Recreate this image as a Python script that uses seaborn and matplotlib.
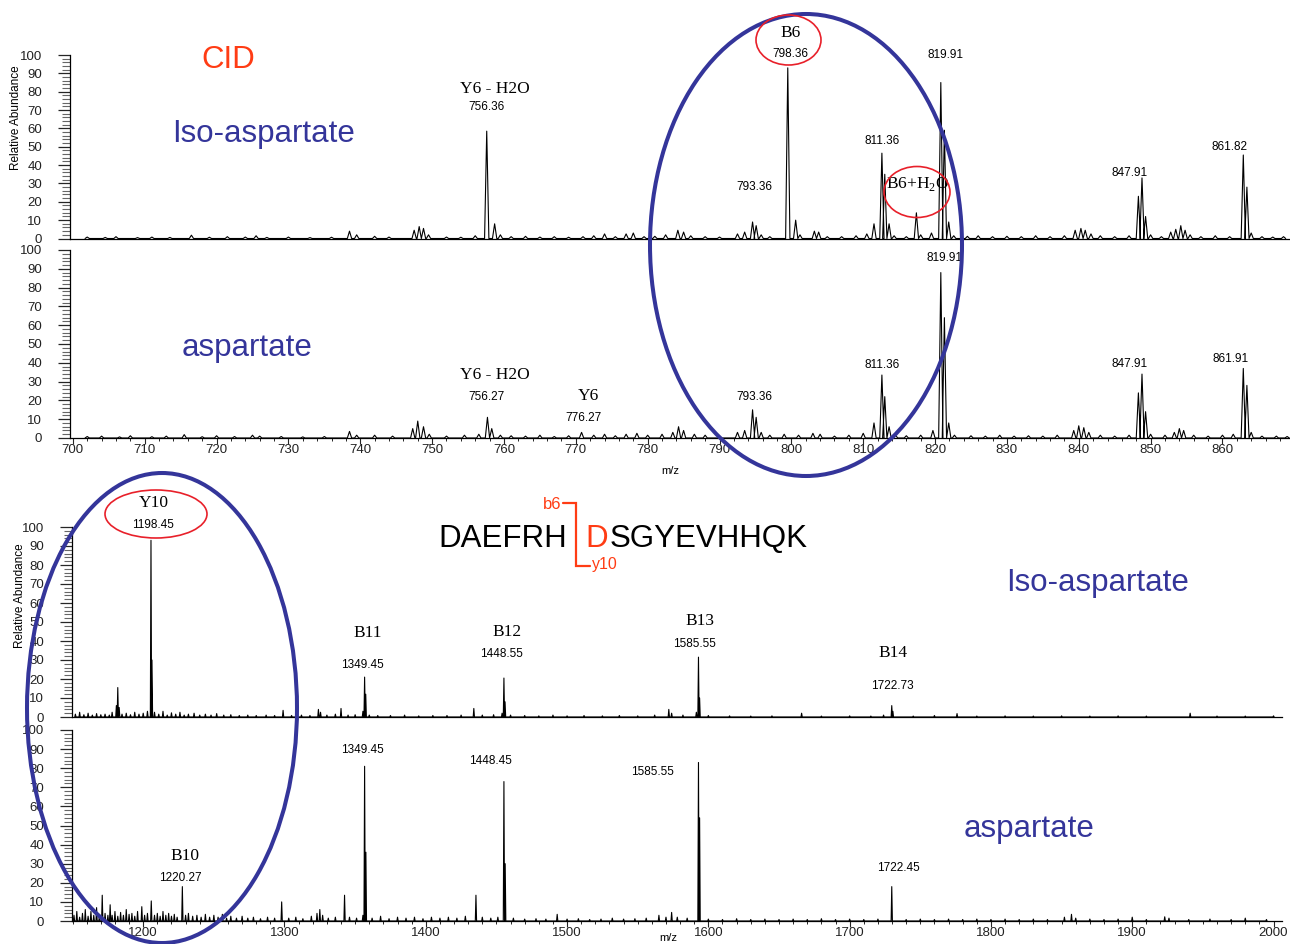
import matplotlib
matplotlib.use("Agg")
import matplotlib.pyplot as plt
import pandas as pd
import seaborn as sns
from matplotlib.patches import Ellipse
from matplotlib.ticker import MultipleLocator

# peak lists (m/z, relative abundance)
cid_iso = [
    (702, 0.8), (704.5, 0.6), (706, 1.0), (709, 0.5), (711, 0.8), (713.5, 0.6), (716.5, 1.8),
    (719, 0.7), (721.5, 1.0), (724, 0.8), (725.5, 1.5), (727, 0.6), (730, 0.8), (733, 0.5),
    (736, 0.7), (738.5, 4.0), (739.5, 2.0), (742, 1.2), (744, 0.8), (747.5, 4.5), (748.2, 6.5),
    (748.8, 5.5), (749.5, 2.0), (752, 0.8), (754, 0.7), (756, 1.5), (757.6, 58.5), (758.7, 8.0),
    (759.5, 2.0), (761, 1.0), (763, 1.2), (765, 0.8), (767, 1.0), (769, 0.7), (771, 1.0),
    (772.5, 1.5), (774, 2.5), (775.5, 1.0), (777, 2.5), (778, 3.0), (779.5, 1.0), (781, 1.2),
    (782.5, 2.0), (784.2, 4.5), (785, 3.5), (786, 1.5), (788, 1.0), (790, 0.8), (792.5, 2.5),
    (793.5, 3.5), (794.6, 9.0), (795.1, 7.0), (795.8, 2.0), (797, 1.0), (799.5, 93.0),
    (800.6, 10.0), (801.2, 2.0), (803.2, 4.0), (803.8, 3.5), (805, 1.0), (807, 1.0), (809, 1.5),
    (810.5, 2.5), (811.5, 8.0), (812.6, 46.5), (813.0, 35.0), (813.6, 8.0), (814.3, 1.5),
    (816, 1.0), (817.4, 14.0), (818, 2.0), (819.5, 3.0), (820.8, 85.0), (821.3, 59.0),
    (821.9, 9.0), (822.6, 1.5), (824.5, 1.2), (826, 1.5), (828, 1.0), (830, 1.2), (832, 1.0),
    (834, 1.5), (836, 1.0), (838, 1.5), (839.5, 4.5), (840.3, 5.5), (840.9, 4.5), (841.7, 2.5),
    (843, 1.5), (845, 1.0), (847, 1.5), (848.3, 23.0), (848.8, 33.0), (849.3, 12.0), (850, 2.0),
    (851.5, 1.0), (852.8, 3.5), (853.5, 5.0), (854.2, 7.0), (854.8, 4.5), (855.5, 2.0),
    (857, 1.0), (859, 1.5), (861, 1.0), (862.9, 45.5), (863.4, 28.0), (864, 3.0), (865.5, 1.0),
    (867, 0.8), (868.5, 1.0),
]
cid_asp = [
    (702, 0.8), (704, 1.0), (706.5, 0.6), (708, 1.2), (711, 0.7), (713, 1.0), (715.5, 1.8),
    (718, 0.7), (720, 1.2), (722.5, 0.8), (725, 1.5), (726, 1.0), (729, 0.8), (732, 0.6),
    (735, 0.8), (738.5, 3.5), (739.5, 1.5), (742, 1.5), (744.5, 1.0), (747.3, 5.0), (748, 9.0),
    (748.8, 6.0), (749.6, 2.0), (752, 1.0), (754.5, 1.5), (756.5, 2.0), (757.7, 11.0),
    (758.3, 5.0), (759.5, 1.5), (761, 1.2), (763, 1.0), (765, 1.5), (767, 0.8), (769, 1.2),
    (770.8, 3.0), (772.5, 1.5), (774, 2.0), (775.5, 1.2), (777, 2.0), (778.5, 2.5), (780, 1.5),
    (782, 2.0), (783.5, 3.0), (784.3, 6.0), (785, 4.0), (786.5, 2.0), (788, 1.5), (790, 1.0),
    (792.5, 3.0), (793.5, 4.0), (794.6, 15.0), (795.1, 11.0), (795.8, 3.0), (797, 1.5),
    (799, 2.0), (801, 1.5), (803, 2.5), (804, 2.0), (806, 1.0), (808, 1.5), (810, 2.5),
    (811.5, 8.0), (812.6, 33.5), (813.0, 22.0), (813.6, 6.0), (814.5, 1.5), (816, 1.2),
    (818, 1.5), (819.7, 4.0), (820.8, 88.0), (821.3, 64.0), (821.9, 8.0), (822.7, 1.5),
    (825, 1.2), (827, 1.0), (829, 1.5), (831, 1.0), (833, 1.2), (835, 1.0), (837, 1.5),
    (839.3, 4.0), (840, 6.5), (840.7, 5.5), (841.4, 3.0), (843, 1.5), (845, 1.0), (847, 1.5),
    (848.3, 24.0), (848.8, 34.0), (849.3, 14.0), (850, 2.0), (852, 1.5), (853.3, 3.0),
    (854, 5.0), (854.6, 4.0), (856, 1.5), (858, 1.0), (860, 1.5), (861.5, 2.0), (862.9, 37.0),
    (863.4, 28.0), (864, 3.0), (865.5, 1.0), (867.5, 1.0), (869, 0.8),
]
hcd_iso = [
    (1152, 1.5), (1155, 2.5), (1158, 1.2), (1161, 2.0), (1164, 1.0), (1167, 1.8), (1170, 1.2),
    (1173, 1.5), (1176, 1.0), (1178, 2.5), (1181, 6.0), (1182, 15.5), (1183, 5.0), (1185, 1.5),
    (1188, 2.0), (1191, 1.2), (1194, 2.5), (1197, 1.5), (1200, 2.0), (1203, 3.0), (1205.5, 93.0),
    (1206.2, 30.0), (1208, 2.5), (1211, 1.5), (1214, 3.0), (1217, 1.0), (1220, 2.2), (1223, 1.5),
    (1226, 2.5), (1229, 1.0), (1232, 1.5), (1236, 2.0), (1240, 1.0), (1244, 1.5), (1248, 1.0),
    (1252, 1.8), (1257, 1.0), (1262, 1.2), (1268, 0.8), (1274, 1.0), (1280, 0.8), (1287, 1.0),
    (1293, 0.8), (1299, 3.5), (1305, 0.8), (1312, 1.0), (1318, 0.8), (1324, 4.0), (1325.5, 2.5),
    (1330, 1.0), (1336, 1.5), (1340, 4.5), (1345, 1.0), (1350, 1.2), (1355.5, 3.0),
    (1356.7, 21.0), (1357.5, 12.0), (1360, 1.0), (1366, 0.8), (1375, 0.8), (1385, 1.0),
    (1395, 0.6), (1405, 0.8), (1415, 0.8), (1425, 1.0), (1434, 4.5), (1440, 1.0), (1448, 1.2),
    (1454, 2.0), (1455.3, 20.5), (1456.1, 8.0), (1460, 1.0), (1470, 0.8), (1480, 0.6),
    (1490, 1.0), (1500, 0.6), (1512, 0.8), (1525, 0.6), (1537, 0.8), (1550, 0.6), (1562, 1.0),
    (1572, 4.0), (1574, 2.0), (1582, 1.0), (1591.5, 2.5), (1593, 31.5), (1593.8, 10.0),
    (1600, 0.8), (1615, 0.6), (1630, 0.5), (1645, 0.6), (1666, 2.0), (1680, 0.5), (1700, 0.6),
    (1715, 0.5), (1724, 1.0), (1729.8, 6.0), (1730.6, 3.0), (1745, 0.5), (1760, 0.8),
    (1776, 1.8), (1790, 0.5), (1810, 0.6), (1830, 0.5), (1850, 0.6), (1870, 0.5), (1890, 0.6),
    (1910, 0.5), (1941, 2.0), (1960, 0.5), (1980, 0.5), (2000, 0.6),
]
hcd_asp = [
    (1151, 3.0), (1153, 5.0), (1155, 2.0), (1157, 4.0), (1159, 6.0), (1161, 2.5), (1163, 5.0),
    (1165, 3.0), (1167, 7.0), (1169, 3.0), (1171, 13.5), (1173, 4.0), (1175, 3.0),
    (1176.6, 8.5), (1178, 3.0), (1180, 5.0), (1182, 2.5), (1184, 4.5), (1186, 3.0), (1188, 6.0),
    (1190, 3.5), (1192, 4.0), (1194, 2.5), (1196, 5.0), (1199, 7.5), (1201, 3.0), (1203, 4.0),
    (1205.7, 10.5), (1208, 3.0), (1210, 4.0), (1212, 2.5), (1214, 5.0), (1216, 3.0), (1218, 4.0),
    (1220, 2.5), (1222, 3.5), (1224, 2.0), (1227.7, 18.0), (1230, 3.0), (1232, 4.0),
    (1235, 2.5), (1238, 3.0), (1241, 2.0), (1244, 3.5), (1247, 2.0), (1250, 3.0), (1253, 2.0),
    (1256, 3.5), (1259, 1.5), (1262, 2.5), (1266, 1.5), (1270, 2.5), (1274, 1.5), (1278, 2.0),
    (1283, 1.2), (1288, 2.0), (1293, 1.5), (1298, 10.0), (1303, 1.5), (1308, 2.0), (1313, 1.2),
    (1319, 2.5), (1323, 4.0), (1325, 6.0), (1327, 3.0), (1331, 1.5), (1336, 2.0),
    (1342.5, 13.5), (1346, 2.0), (1351, 1.5), (1355.5, 3.0), (1356.7, 81.0), (1357.6, 36.0),
    (1362, 1.5), (1368, 2.5), (1374, 1.2), (1380, 2.0), (1386, 1.5), (1392, 2.0), (1398, 1.2),
    (1404, 2.0), (1410, 1.5), (1416, 2.0), (1422, 1.5), (1428, 2.5), (1435.5, 13.5),
    (1440, 2.0), (1446, 1.5), (1451, 2.0), (1455.3, 73.0), (1456.2, 30.0), (1462, 1.5),
    (1470, 1.0), (1478, 1.2), (1485, 1.0), (1493, 3.5), (1500, 1.0), (1508, 1.2), (1516, 0.8),
    (1524, 1.0), (1532, 1.5), (1540, 1.0), (1548, 1.2), (1556, 1.5), (1565, 3.0), (1570, 2.0),
    (1574, 4.5), (1578, 2.0), (1585, 1.5), (1593, 83.0), (1593.8, 54.0), (1600, 1.0),
    (1610, 0.8), (1620, 1.2), (1630, 0.8), (1640, 1.0), (1650, 0.8), (1660, 1.0), (1670, 0.8),
    (1680, 1.2), (1690, 0.8), (1700, 1.0), (1710, 0.8), (1720, 1.0), (1729.8, 18.0),
    (1740, 0.8), (1750, 1.0), (1760, 0.8), (1770, 1.0), (1780, 0.8), (1790, 1.0), (1800, 0.8),
    (1810, 1.0), (1820, 0.8), (1830, 1.0), (1840, 0.8), (1852, 2.0), (1857, 3.5), (1860, 1.5),
    (1870, 1.0), (1880, 0.8), (1890, 1.0), (1900, 2.0), (1910, 0.8), (1923, 2.2), (1926, 1.5),
    (1940, 0.8), (1955, 1.0), (1970, 0.8), (1980, 1.5), (1995, 0.8),
]

# annotations: (m/z, abundance, text, kind)
cid_iso_labels = [
    (758.7, 81.5, "Y6 - H2O", "ion"), (757.6, 71.7, "756.36", "mass"),
    (799.9, 112.0, "B6", "ion"), (799.8, 100.5, "798.36", "mass"),
    (821.5, 100.0, "819.91", "mass"), (812.6, 53.0, "811.36", "mass"),
    (817.6, 29.5, "B6+H$_\\mathrm{2}$O", "ion"), (794.8, 28.0, "793.36", "mass"),
    (847.1, 35.7, "847.91", "mass"), (861.0, 49.9, "861.82", "mass"),
]
cid_asp_labels = [
    (821.3, 95.7, "819.91", "mass"), (758.7, 33.5, "Y6 - H2O", "ion"),
    (757.6, 21.8, "756.27", "mass"), (771.7, 22.3, "Y6", "ion"), (771.0, 10.6, "776.27", "mass"),
    (794.8, 21.8, "793.36", "mass"), (812.6, 38.8, "811.36", "mass"),
    (847.1, 39.4, "847.91", "mass"), (861.1, 42.0, "861.91", "mass"),
]
hcd_iso_labels = [
    (1207.8, 112.6, "Y10", "ion"), (1207.1, 101.0, "1198.45", "mass"),
    (1358.9, 44.2, "B11", "ion"), (1355.3, 27.4, "1349.45", "mass"),
    (1457.4, 44.7, "B12", "ion"), (1453.9, 33.2, "1448.55", "mass"),
    (1594.3, 50.5, "B13", "ion"), (1590.1, 38.4, "1585.55", "mass"),
    (1730.5, 33.7, "B14", "ion"), (1730.5, 16.3, "1722.73", "mass"),
]
hcd_asp_labels = [
    (1355.3, 89.5, "1349.45", "mass"), (1446.1, 83.8, "1448.45", "mass"),
    (1560.3, 78.0, "1585.55", "mass"), (1229.8, 34.0, "B10", "ion"),
    (1226.2, 22.5, "1220.27", "mass"), (1734.8, 27.7, "1722.45", "mass"),
]

sns.set_style("ticks")
plt.rcParams["font.family"] = ["Liberation Sans", "DejaVu Sans"]
plt.rcParams["text.color"] = "black"
plt.rcParams["mathtext.fontset"] = "custom"
plt.rcParams["mathtext.rm"] = "Liberation Serif"

NAVY = "#34359a"
RED = "#ff3c14"
ELL_RED = "#e8202a"
SERIF = ["Liberation Serif", "DejaVu Serif"]

W, H = 1290, 944
fig = plt.figure(figsize=(W / 100, H / 100), dpi=100)


def px_axes(left, right, y0, y100):
    return fig.add_axes([left / W, 1 - y0 / H, (right - left) / W, (y0 - y100) / H])


def profile(peaks, hw):
    xs, ys = [], []
    for mz, ab in peaks:
        xs += [mz - hw, mz, mz + hw]
        ys += [0, ab, 0]
    return pd.DataFrame({"mz": xs, "ab": ys})


def spectrum(ax, peaks, hw, xlim, major, minor, show_x, labels):
    sns.lineplot(data=profile(peaks, hw), x="mz", y="ab", ax=ax, color="black",
                 lw=0.8, sort=False, estimator=None)
    ax.set_xlim(*xlim)
    ax.set_ylim(0, 100)
    ax.set_xlabel("")
    ax.set_ylabel("")
    ax.patch.set_alpha(0)
    for s in ["top", "right"]:
        ax.spines[s].set_visible(False)
    for s in ["left", "bottom"]:
        ax.spines[s].set_linewidth(0.9)
        ax.spines[s].set_color("black")
    ax.yaxis.set_major_locator(MultipleLocator(10))
    ax.yaxis.set_minor_locator(MultipleLocator(2))
    ax.tick_params(axis="y", which="major", length=9, width=0.9, pad=11,
                   labelsize=9.5, labelcolor="#222222")
    ax.tick_params(axis="y", which="minor", length=6, width=0.8, color="#666666")
    if show_x:
        ax.xaxis.set_major_locator(MultipleLocator(major))
        ax.xaxis.set_minor_locator(MultipleLocator(minor))
        ax.tick_params(axis="x", which="major", length=4, width=0.8, pad=0.5,
                       labelsize=9.5, labelcolor="#222222")
        ax.tick_params(axis="x", which="minor", length=2.5, width=0.7)
    else:
        ax.tick_params(axis="x", which="both", bottom=False, labelbottom=False)
    for mz, ab, txt, kind in labels:
        if kind == "ion":
            ax.text(mz, ab, txt, ha="center", va="center", fontsize=12.5, family=SERIF)
        else:
            ax.text(mz, ab, txt, ha="center", va="center", fontsize=8.5)


ax1 = px_axes(70, 1290, 238.5, 55)
ax2 = px_axes(70, 1290, 438, 250)
ax3 = px_axes(72, 1282, 717, 527)
ax4 = px_axes(72, 1282, 921, 730)

spectrum(ax1, cid_iso, 0.3, (699.6, 869.4), 10, 2, False, cid_iso_labels)
spectrum(ax2, cid_asp, 0.3, (699.6, 869.4), 10, 2, True, cid_asp_labels)
spectrum(ax3, hcd_iso, 0.45, (1149.6, 2006), 100, 10, False, hcd_iso_labels)
spectrum(ax4, hcd_asp, 0.45, (1149.6, 2006), 100, 10, True, hcd_asp_labels)

# overlay in pixel coordinates for the free text and the circles
ov = fig.add_axes([0, 0, 1, 1], zorder=10)
ov.set_xlim(0, W)
ov.set_ylim(H, 0)
ov.axis("off")

ov.text(16, 118, "Relative Abundance", rotation=90, ha="center", va="center", fontsize=8.5)
ov.text(20, 596, "Relative Abundance", rotation=90, ha="center", va="center", fontsize=8.5)
ov.text(670, 471, "m/z", ha="center", va="center", fontsize=8)
ov.text(668, 938, "m/z", ha="center", va="center", fontsize=8)

ov.text(228, 68, "CID", ha="center", va="baseline", fontsize=22.5, color=RED)
ov.text(264, 142, "Iso-aspartate", ha="center", va="baseline", fontsize=22.5, color=NAVY)
ov.text(247, 356, "aspartate", ha="center", va="baseline", fontsize=22.5, color=NAVY)
ov.text(1098, 591, "Iso-aspartate", ha="center", va="baseline", fontsize=22.5, color=NAVY)
ov.text(1029, 837, "aspartate", ha="center", va="baseline", fontsize=22.5, color=NAVY)

ov.text(567, 547, "DAEFRH", ha="right", va="baseline", fontsize=22.5)
ov.text(608, 547, "D", ha="right", va="baseline", fontsize=22.5, color=RED)
ov.text(610, 547, "SGYEVHHQK", ha="left", va="baseline", fontsize=22.5)
ov.plot([563, 576, 576, 590], [503, 503, 566, 566], color=RED, lw=1.6,
        solid_joinstyle="miter")
ov.text(561, 509, "b6", ha="right", va="baseline", fontsize=12, color=RED)
ov.text(592, 569, "y10", ha="left", va="baseline", fontsize=11.5, color=RED)

ov.add_patch(Ellipse((806, 245), 312, 462, fill=False, ec=NAVY, lw=2.9))
ov.add_patch(Ellipse((162, 708), 270, 470, fill=False, ec=NAVY, lw=2.9))
ov.add_patch(Ellipse((788.5, 40), 65, 50, fill=False, ec=ELL_RED, lw=1.2))
ov.add_patch(Ellipse((917, 192), 66, 51, fill=False, ec=ELL_RED, lw=1.2))
ov.add_patch(Ellipse((156, 514), 102, 48, fill=False, ec=ELL_RED, lw=1.2))

fig.savefig("out.png", dpi=100)
